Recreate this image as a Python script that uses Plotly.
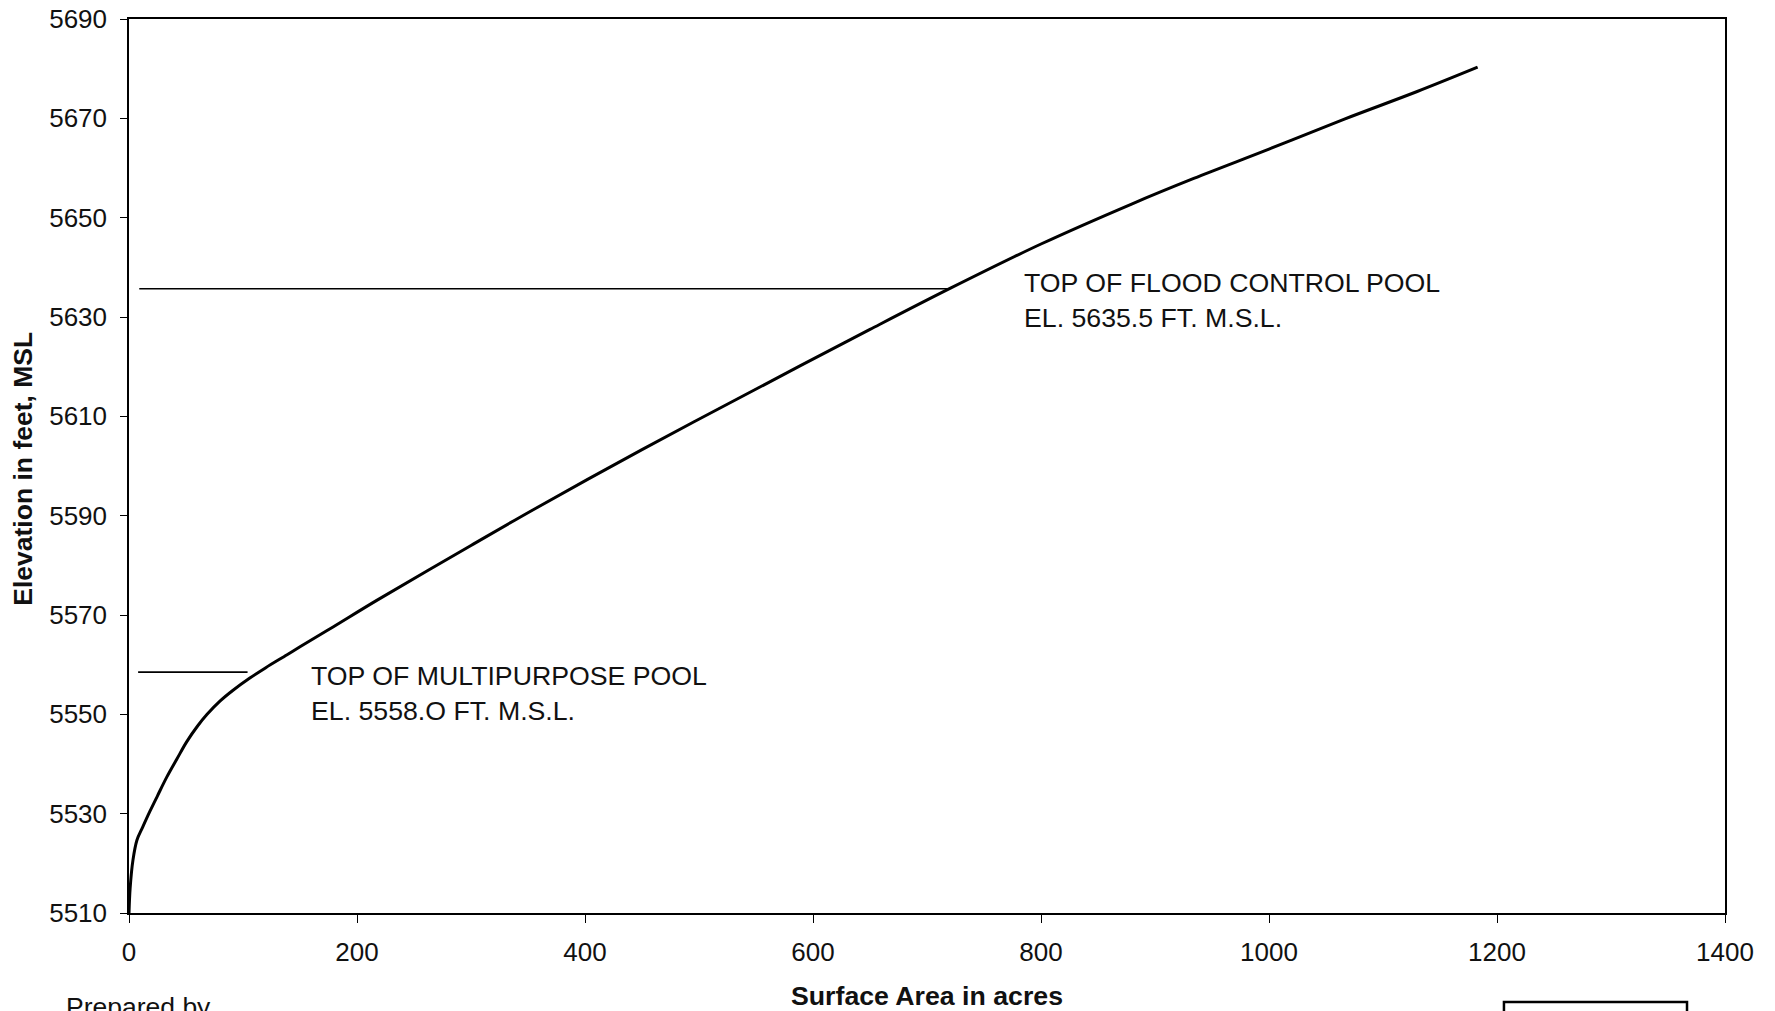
import plotly.graph_objects as go

# Area-elevation curve (surface area in acres vs elevation in feet MSL)
area_acres = [0, 1, 3.5, 7, 12, 18.4, 25, 33, 42, 50.7, 60, 68.5, 80, 91, 106, 120,
              138.7, 150, 179, 217.7, 300, 354.6, 450, 565, 589, 650, 720.6, 800,
              880, 934, 1000, 1065.6, 1130, 1183]
elevation_ft = [5510, 5515, 5520.7, 5524.7, 5527.3, 5530.5, 5533.6, 5537.3, 5541.0, 5544.5,
                5547.6, 5550.0, 5552.7, 5554.8, 5557.3, 5559.4, 5562, 5563.6, 5567.6, 5573.0,
                5584.0, 5591.2, 5603.3, 5617.3, 5620.2, 5627.5, 5635.8, 5644.7, 5652.8,
                5657.9, 5663.8, 5669.8, 5675.4, 5680.3]

# Pool reference lines
multi_x = [8, 104]
multi_y = [5558.5, 5558.5]
flood_x = [9, 719]
flood_y = [5635.7, 5635.7]

x_ticks = [0, 200, 400, 600, 800, 1000, 1200, 1400]
y_ticks = [5510, 5530, 5550, 5570, 5590, 5610, 5630, 5650, 5670, 5690]

FONT = "Liberation Sans, Arial, sans-serif"

fig = go.Figure()
fig.add_trace(go.Scatter(x=area_acres, y=elevation_ft, mode="lines",
                         line=dict(color="black", width=3, shape="spline", smoothing=1.0),
                         showlegend=False))
fig.add_trace(go.Scatter(x=multi_x, y=multi_y, mode="lines",
                         line=dict(color="black", width=1.6), showlegend=False))
fig.add_trace(go.Scatter(x=flood_x, y=flood_y, mode="lines",
                         line=dict(color="black", width=1.6), showlegend=False))

fig.update_layout(
    width=1775, height=1011,
    margin=dict(l=129, r=50, t=19, b=98, autoexpand=False),
    paper_bgcolor="white", plot_bgcolor="white",
    font=dict(family=FONT, size=26, color="#111"),
    xaxis=dict(range=[0, 1400], tickvals=x_ticks, ticks="outside", ticklen=8,
               tickcolor="black", showline=True, linecolor="black", linewidth=1.5,
               mirror=True, showgrid=False, zeroline=False, ticklabelstandoff=7,
               automargin=False, tickfont=dict(size=26)),
    yaxis=dict(range=[5510, 5690], tickvals=y_ticks, ticks="outside", ticklen=7,
               tickcolor="black", showline=True, linecolor="black", linewidth=1.5,
               mirror=True, showgrid=False, zeroline=False, ticklabelstandoff=8,
               automargin=False, tickfont=dict(size=26)),
    annotations=[
        dict(x=783, y=5633.3, xref="x", yref="y", xanchor="left", yanchor="middle",
             align="left", showarrow=False,
             text="TOP OF FLOOD CONTROL POOL<br>EL. 5635.5 FT. M.S.L.",
             font=dict(size=26.7)),
        dict(x=158, y=5554.1, xref="x", yref="y", xanchor="left", yanchor="middle",
             align="left", showarrow=False,
             text="TOP OF MULTIPURPOSE POOL<br>EL. 5558.O FT. M.S.L.",
             font=dict(size=26.7)),
        dict(x=0.5, y=-0.093, xref="paper", yref="paper", xanchor="center",
             yanchor="middle", showarrow=False, text="<b>Surface Area in acres</b>",
             font=dict(size=26.7)),
        dict(x=-0.0664, y=0.497, xref="paper", yref="paper", xanchor="center",
             yanchor="middle", showarrow=False, textangle=-90,
             text="<b>Elevation in feet, MSL</b>", font=dict(size=26.5)),
        dict(x=-0.0405, y=-0.0861, xref="paper", yref="paper", xanchor="left",
             yanchor="top", showarrow=False, text="Prepared by", font=dict(size=26.5)),
    ],
    shapes=[
        dict(type="rect", xref="paper", yref="paper", x0=0.8615, x1=0.9762,
             y0=-0.2, y1=-0.0996, line=dict(color="black", width=2.5)),
    ],
)

fig.write_html("out.html")
